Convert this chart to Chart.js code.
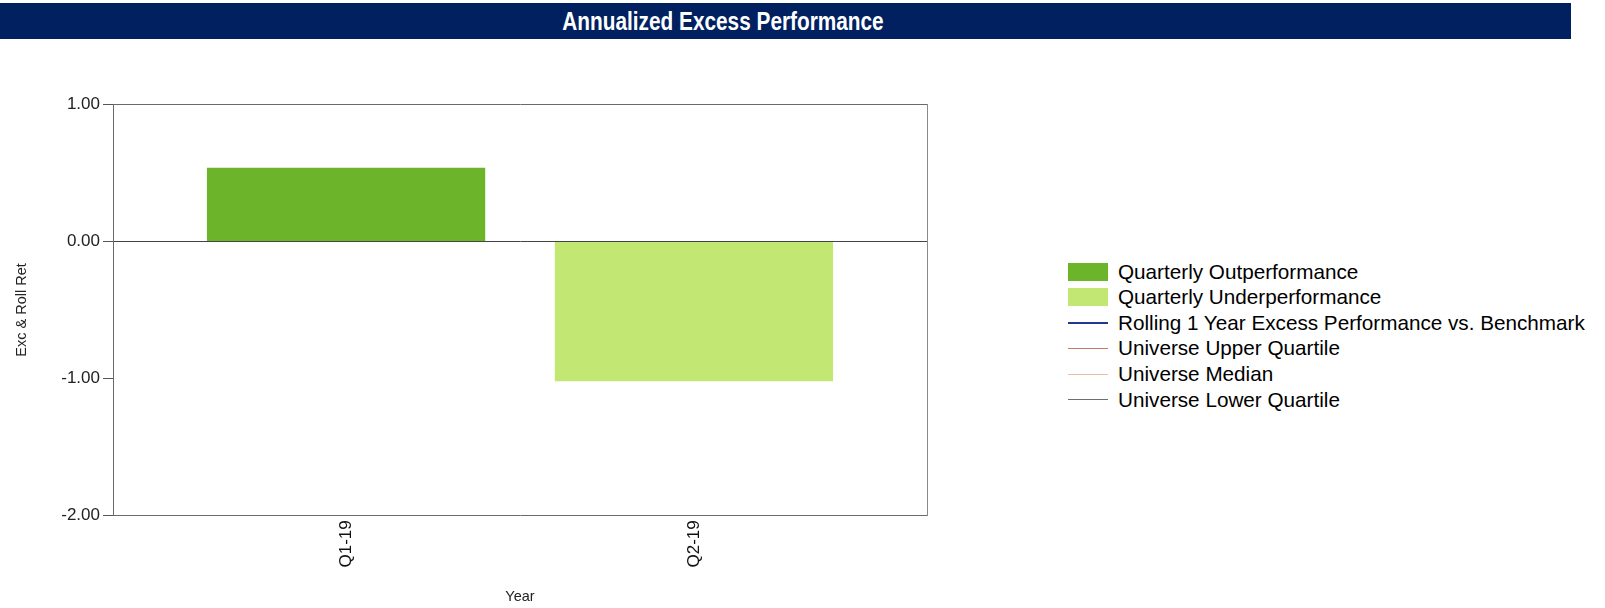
<!DOCTYPE html>
<html>
<head>
<meta charset="utf-8">
<script src="https://cdn.jsdelivr.net/npm/chart.js@4.4.1/dist/chart.umd.min.js"></script>
<style>
  html, body { margin: 0; padding: 0; background: #ffffff; width: 1605px; height: 608px; overflow: hidden; }
  #header { position: absolute; left: 0; top: 3px; width: 1571px; height: 36px; background: #002060; }
  #title { position: absolute; left: 723px; top: 0; height: 36px; line-height: 36px; white-space: nowrap;
           font-family: "Liberation Sans", Arial, sans-serif; font-weight: bold; font-size: 26px; color: #ffffff;
           transform: translateX(-50%) scaleX(0.8); transform-origin: center center; }
  #wrap { position: absolute; left: 0; top: 0; width: 950px; height: 608px; }
  #legend { position: absolute; left: 1068px; top: 258.9px; font-family: "Liberation Sans", Arial, sans-serif;
            font-size: 20.7px; color: #000; }
  .item { height: 25.6px; display: flex; align-items: center; white-space: nowrap; }
  .sw { width: 40px; margin-right: 10px; flex: none; }
</style>
</head>
<body>
<div id="header"><span id="title">Annualized Excess Performance</span></div>
<div id="wrap"><canvas id="c" width="950" height="608"></canvas></div>
<div id="legend"></div>
<script>
// ---- data ----
const categories = ["Q1-19", "Q2-19"];
const outperformance = [0.54, null];
const underperformance = [null, -1.02];
const rolling1Year = [null, null];
const upperQuartile = [null, null];
const medianQuartile = [null, null];
const lowerQuartile = [null, null];
const yTicks = [1, 0, -1, -2];

const seriesNames = [
  "Quarterly Outperformance",
  "Quarterly Underperformance",
  "Rolling 1 Year Excess Performance vs. Benchmark",
  "Universe Upper Quartile",
  "Universe Median",
  "Universe Lower Quartile"
];

const toPts = arr => arr.map((v, i) => ({ x: i, y: v }));
const normal = "'Liberation Sans', Arial, sans-serif";

const chart = new Chart(document.getElementById('c'), {
  type: 'bar',
  data: {
    datasets: [
      { type: 'bar', label: seriesNames[0], data: toPts(outperformance), backgroundColor: '#6cb52a', borderWidth: 0, grouped: false, categoryPercentage: 0.8, barPercentage: 1 },
      { type: 'bar', label: seriesNames[1], data: toPts(underperformance), backgroundColor: '#c2e773', borderWidth: 0, grouped: false, categoryPercentage: 0.8, barPercentage: 1 },
      { type: 'line', label: seriesNames[2], data: toPts(rolling1Year), borderColor: '#1f3a8c', borderWidth: 2, pointRadius: 0 },
      { type: 'line', label: seriesNames[3], data: toPts(upperQuartile), borderColor: '#c47a66', borderWidth: 1, pointRadius: 0 },
      { type: 'line', label: seriesNames[4], data: toPts(medianQuartile), borderColor: '#e6bea2', borderWidth: 1, pointRadius: 0 },
      { type: 'line', label: seriesNames[5], data: toPts(lowerQuartile), borderColor: '#6e6e6e', borderWidth: 1, pointRadius: 0 }
    ]
  },
  options: {
    responsive: false,
    animation: false,
    devicePixelRatio: 1,
    layout: { padding: { left: 0, right: 23, top: 104.7, bottom: 0 } },
    plugins: { legend: { display: false }, tooltip: { enabled: false }, title: { display: false } },
    scales: {
      x: {
        type: 'linear',
        position: 'bottom',
        offset: false,
        min: -0.67,
        max: 1.67,
        afterBuildTicks: s => { s.ticks = categories.map((c, i) => ({ value: i })); },
        afterFit: s => { s.height = 92.7; },
        ticks: {
          callback: v => categories[v],
          minRotation: 90, maxRotation: 90,
          autoSkip: false,
          padding: 5,
          color: '#111',
          font: { family: normal, size: 17 }
        },
        grid: { display: false, drawTicks: false, offset: false },
        border: { display: true, color: '#6a6a6a', width: 1 },
        title: { display: true, text: 'Year', color: '#222', font: { family: normal, size: 14.5 }, padding: { top: 0, bottom: 2.5 } }
      },
      y: {
        type: 'linear',
        position: 'left',
        min: -2,
        max: 1,
        afterBuildTicks: s => { s.ticks = yTicks.map(v => ({ value: v })); },
        afterFit: s => { s.width = 113; },
        ticks: {
          callback: v => Number(v).toFixed(2),
          padding: 3,
          color: '#222',
          font: { family: normal, size: 17 }
        },
        grid: {
          drawOnChartArea: true,
          drawTicks: true,
          tickLength: 10,
          tickColor: '#555',
          color: ctx => (ctx.tick && ctx.tick.value === 0) ? '#444' : 'rgba(0,0,0,0)',
          lineWidth: 1
        },
        border: { display: true, color: '#6a6a6a', width: 1 },
        title: { display: true, text: 'Exc & Roll Ret', color: '#222', font: { family: normal, size: 14.5 }, padding: { top: 12.8, bottom: 0 } }
      },
      xTop: {
        type: 'linear', position: 'top', display: true,
        afterFit: s => { s.height = 0; },
        ticks: { display: false },
        grid: { display: false, drawTicks: false },
        border: { display: true, color: '#6a6a6a', width: 1 }
      },
      yRight: {
        type: 'linear', position: 'right', display: true,
        afterFit: s => { s.width = 0; },
        ticks: { display: false },
        grid: { display: false, drawTicks: false },
        border: { display: true, color: '#8a8a8a', width: 1 }
      }
    }
  }
});

// HTML legend built from the chart's datasets
const legend = document.getElementById('legend');
chart.data.datasets.forEach(ds => {
  const row = document.createElement('div');
  row.className = 'item';
  const sw = document.createElement('div');
  sw.className = 'sw';
  if (ds.type === 'bar') {
    sw.style.height = '18px';
    sw.style.background = ds.backgroundColor;
  } else {
    sw.style.height = ds.borderWidth + 'px';
    sw.style.background = ds.borderColor;
  }
  const tx = document.createElement('span');
  tx.textContent = ds.label;
  row.appendChild(sw);
  row.appendChild(tx);
  legend.appendChild(row);
});
</script>
</body>
</html>
